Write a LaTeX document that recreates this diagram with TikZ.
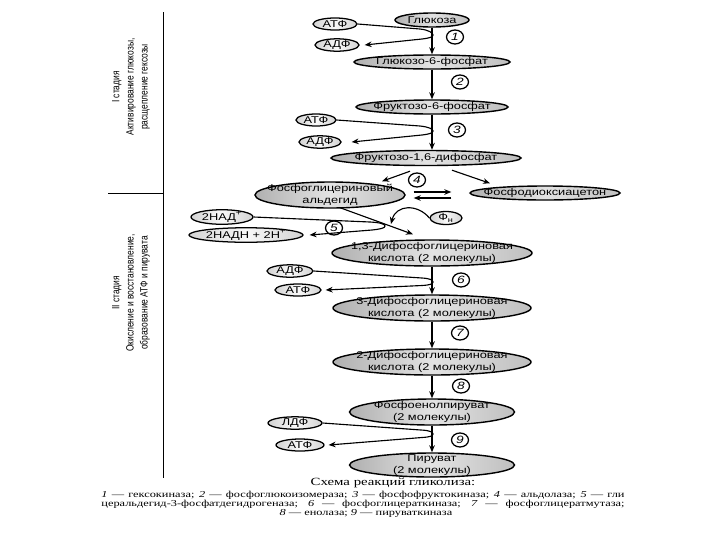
\documentclass[tikz,border=0pt]{standalone}
\usepackage{fontspec}
\setmainfont{Liberation Serif}
\newfontfamily\nfont[FakeStretch=1.3]{Liberation Sans}
\newfontfamily\stfont[FakeStretch=0.8]{Liberation Sans}
\newfontfamily\capfont[FakeStretch=1.35]{Liberation Serif}
\newfontfamily\titfont[FakeStretch=1.35]{Liberation Serif}
\usetikzlibrary{shapes.geometric,arrows.meta,calc}
\tikzset{
 sz/.style 2 args={minimum width=#1*0.025cm, minimum height=#2*0.025cm},
 el/.style={ellipse, draw, line width=1pt, inner sep=0pt, left color=gray!62, right color=gray!50, middle color=gray!22},
 sm/.style={ellipse, draw, line width=0.9pt, inner sep=0pt, left color=gray!35, right color=gray!35, middle color=gray!5, font=\nfont\fontsize{7}{8}\selectfont},
 tx/.style={inner sep=0pt, align=center, font=\nfont\fontsize{7}{8.4}\selectfont},
 num/.style={ellipse, draw, line width=0.9pt, fill=white, inner sep=0pt, sz={17}{14}, font=\nfont\itshape\fontsize{7.5}{8}\selectfont},
 arr/.style={line width=0.8pt, -{Stealth[length=5pt,width=4pt]}},
 ln/.style={line width=0.6pt},
 stage/.style={rotate=90, align=center, font=\stfont\fontsize{7.5}{10}\selectfont, inner sep=0pt},
 capt/.style={inner sep=0pt, font=\capfont\fontsize{6.5}{7}\selectfont},
}
\begin{document}
\begin{tikzpicture}[x=0.025cm,y=-0.025cm]
\fill[white] (0,0) rectangle (720,540);
\useasboundingbox (0,0) rectangle (720,540);

% stage labels
\draw[ln] (163,12) -- (163,478);
\draw[ln] (108,193) -- (163,193);
\node[stage] (st1) at (131,87) {I стадия\\Активирование глюкозы,\\расщепление гексозы};
\node[stage] (st2) at (131,293) {II стадия\\Окисление и восстановление,\\образование АТФ и пирувата};

% main chain
\node[el,sz={74}{14}] (glu) at (432,20) {};
\node[tx] (glut) at (glu) {Глюкоза};
\node[el,sz={156}{14}] (g6p) at (432,62) {};
\node[tx] (g6pt) at (g6p) {Глюкозо-6-фосфат};
\node[el,sz={152}{14}] (f6p) at (432,107) {};
\node[tx] (f6pt) at (f6p) {Фруктозо-6-фосфат};
\node[el,sz={190}{15}] (f16) at (426,158) {};
\node[tx] (f16t) at (f16) {Фруктозо-1,6-дифосфат};
\node[el,sz={150}{26}] (gap) at (330,195) {};
\node[tx] (gapt) at (gap) {Фосфоглицериновый\\альдегид};
\node[el,sz={150}{14}] (dhap) at (545,193) {};
\node[tx] (dhapt) at (dhap) {Фосфодиоксиацетон};
\node[el,sz={200}{26}] (dpg13) at (432,253) {};
\node[tx] (dpg13t) at (dpg13) {1,3-Дифосфоглицериновая\\кислота (2 молекулы)};
\node[el,sz={198}{26}] (pg3) at (432,308) {};
\node[tx] (pg3t) at (pg3) {3-Дифосфоглицериновая\\кислота (2 молекулы)};
\node[el,sz={198}{26}] (pg2) at (432,362) {};
\node[tx] (pg2t) at (pg2) {2-Дифосфоглицериновая\\кислота (2 молекулы)};
\node[el,sz={165}{26}] (pep) at (432,412) {};
\node[tx] (pept) at (pep) {Фосфоенолпируват\\(2 молекулы)};
\node[el,sz={165}{24}] (pyr) at (432,465) {};
\node[tx] (pyrt) at (pyr) {Пируват\\(2 молекулы)};

% side nodes
\node[sm,sz={44}{12}] (atp1) at (335,24) {АТФ};
\node[sm,sz={44}{12}] (adp1) at (337,45) {АДФ};
\node[sm,sz={40}{12}] (atp3) at (316,120) {АТФ};
\node[sm,sz={42}{12}] (adp3) at (320,142) {АДФ};
\node[sm,sz={62}{13}] (nad) at (222,217) {2НАД\textsuperscript{+}};
\node[sm,sz={114}{13}] (nadh) at (246,235) {2НАДН + 2Н\textsuperscript{+}};
\node[sm,sz={32}{13}] (fn) at (446,218) {Ф\textsubscript{н}};
\node[sm,sz={46}{12}] (adp6) at (290,271) {АДФ};
\node[sm,sz={46}{12}] (atp6) at (298,290) {АТФ};
\node[sm,sz={54}{12}] (adp9) at (295,423) {ЛДФ};
\node[sm,sz={48}{12}] (atp9) at (300,445) {АТФ};

% numbers
\node[num] (c1) at (455,37) {1};
\node[num] (c2) at (460,82) {2};
\node[num] (c3) at (457,130) {3};
\node[num] (c4) at (417,180) {4};
\node[num] (c5) at (334,228) {5};
\node[num] (c6) at (461,280) {6};
\node[num] (c7) at (460,333) {7};
\node[num] (c8) at (461,386) {8};
\node[num] (c9) at (460,440) {9};

% central arrows
\draw[arr] (glu.south) -- (g6p.north);
\draw[arr] (g6p.south) -- (f6p.north);
\draw[arr] (f6p.south) -- (f6p.south |- f16.north);
\draw[arr] (dpg13.south) -- (pg3.north);
\draw[arr] (pg3.south) -- (pg2.north);
\draw[arr] (pg2.south) -- (pep.north);
\draw[arr] (pep.south) -- (pyr.north);

% reaction 4
\draw[arr] ($(f16.south)+(-16,5)$) -- ($(gap.north)+(52,0)$);
\draw[arr] ($(f16.south)+(26,4)$) -- ($(dhap.north)+(-55,-2)$);
\draw[arr] ($(gap.east)+(8,-3)$) -- ($(dhap.west)+(-18,-1)$);
\draw[arr] ($(dhap.west)+(-18,5)$) -- ($(gap.east)+(8,3)$);
\draw[arr] ($(gap.south)+(10,-1)$) -- ($(dpg13.north)+(-19,-5)$);

% side loops
\draw[arr] (atp1.east) -- (420,29) .. controls (429,30) and (433,33) .. (433,35)
  .. controls (433,37) and (430,38) .. (422,39) -- ($(adp1.east)+(5,0)$);
\draw[arr] (atp3.east) -- (420,126) .. controls (429,127) and (433,129) .. (433,131)
  .. controls (433,133) and (430,134) .. (422,135) -- ($(adp3.east)+(10,0)$);
\draw[arr] (nad.east) -- (370,222) .. controls (380,222.5) and (385,224) .. (385,226)
  .. controls (385,228) and (381,229) .. (372,230) -- ($(nadh.east)+(6,0)$);
\draw[arr] (fn.west) .. controls (418,204) and (396,204) .. (391,224);
\draw[arr] (adp6.east) -- (422,278) .. controls (430,278.5) and (433,280) .. (433,282)
  .. controls (433,284) and (430,285) .. (422,285.5) -- ($(atp6.east)+(4,0)$);
\draw[arr] (adp9.east) -- (421,430) .. controls (430,430.5) and (433,432) .. (433,434)
  .. controls (433,436) and (430,437) .. (422,437.5) -- ($(atp9.east)+(4,0)$);

% caption
\node[inner sep=0pt, font=\titfont\fontsize{7.8}{8}\selectfont] (title) at (393,483) {Схема реакций гликолиза:};
\node[capt] (l1) at (363,495) {\makebox[372pt][s]{\textit{1} — гексокиназа; \textit{2} — фосфоглюкоизомераза; \textit{3} — фосфофруктокиназа; \textit{4} — альдолаза; \textit{5} — гли}};
\node[capt] (l2) at (363,504) {\makebox[372pt][s]{церальдегид-3-фосфатдегидрогеназа; \textit{6} — фосфоглицераткиназа; \textit{7} — фосфоглицератмутаза;}};
\node[capt] (l3) at (366,513) {\textit{8} — енолаза; \textit{9} — пируваткиназа};
\end{tikzpicture}
\end{document}
